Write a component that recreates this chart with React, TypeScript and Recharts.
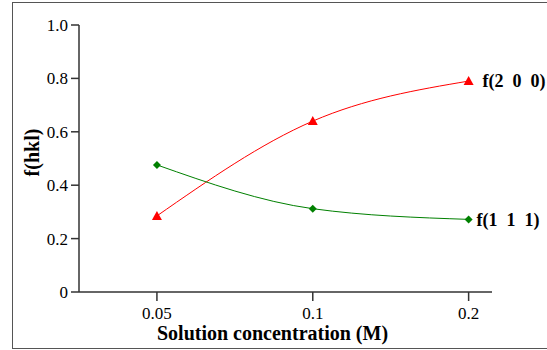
import { CartesianGrid, Line, LineChart, XAxis, YAxis } from "recharts";

const concentrations = ["0.05", "0.1", "0.2"];
const f200 = [0.285, 0.64, 0.79];
const f111 = [0.476, 0.312, 0.272];
const yTicks = [0, 0.2, 0.4, 0.6, 0.8, 1.0];

const data = concentrations.map((c, i) => ({
  idx: i,
  conc: c,
  f200: f200[i],
  f111: f111[i],
}));

const FONT = "'Liberation Serif', 'Times New Roman', serif";

function Triangle(props: any) {
  const { cx, cy } = props;
  if (cx == null || cy == null) return null;
  return <path d={`M${cx},${cy - 5} L${cx + 5},${cy + 4} L${cx - 5},${cy + 4} Z`} fill="#ff0000" />;
}

function Diamond(props: any) {
  const { cx, cy } = props;
  if (cx == null || cy == null) return null;
  return <path d={`M${cx},${cy - 4} L${cx + 4},${cy} L${cx},${cy + 4} L${cx - 4},${cy} Z`} fill="#008000" />;
}

function endLabel(text: string, dx: number) {
  return (props: any) => {
    const { x, y, index } = props;
    if (index !== concentrations.length - 1) return null;
    return (
      <text
        x={x + dx}
        y={y}
        dy="0.35em"
        fill="#000"
        style={{ whiteSpace: "pre", fontFamily: FONT, fontSize: 18, fontWeight: "bold" }}
      >
        {text}
      </text>
    );
  };
}

function YTitle(props: any) {
  const vb = props.viewBox || {};
  const x = (vb.x ?? 19) + 13;
  const y = (vb.y ?? 25) + (vb.height ?? 267) / 2 - 6;
  return (
    <text
      x={x}
      y={y}
      dy="0.35em"
      textAnchor="middle"
      transform={`rotate(-90, ${x}, ${y})`}
      fill="#000"
      style={{ fontFamily: FONT, fontSize: 20, fontWeight: "bold" }}
    >
      f(hkl)
    </text>
  );
}

function XTick(props: any) {
  const { x, y, payload } = props;
  return (
    <text x={x} y={y + 3} dy="0.75em" textAnchor="middle" fill="#000" style={{ fontFamily: FONT, fontSize: 17 }}>
      {concentrations[payload.value] ?? ""}
    </text>
  );
}

function YTick(props: any) {
  const { x, y, payload } = props;
  const v = payload.value as number;
  return (
    <text x={x - 1} y={y} dy="0.35em" textAnchor="end" fill="#000" style={{ fontFamily: FONT, fontSize: 17 }}>
      {v === 0 ? "0" : v.toFixed(1)}
    </text>
  );
}

export default function App() {
  return (
    <div style={{ position: "absolute", left: 0, top: 0, width: 547, height: 350, background: "#fff" }}>
      <div
        style={{
          position: "absolute",
          left: 12,
          top: 2,
          width: 545,
          height: 345,
          border: "1.5px solid #555",
          borderRight: "none",
        }}
      />
      <LineChart
        width={547}
        height={350}
        data={data}
        margin={{ top: 25, right: 55, left: 19, bottom: 28 }}
        style={{ position: "absolute", left: 0, top: 0 }}
      >
        <CartesianGrid stroke="none" />
        <XAxis
          dataKey="idx"
          type="number"
          domain={[-0.5, 2.15]}
          ticks={[0, 1, 2]}
          height={30}
          tickSize={9}
          tickMargin={2}
          stroke="#333"
          strokeWidth={1.5}
          tick={<XTick />}
          label={{
            value: "Solution concentration (M)",
            position: "insideBottom",
            offset: -18,
            dx: -13,
            fill: "#000",
            fontFamily: FONT,
            fontSize: 20,
            fontWeight: "bold",
          }}
        />
        <YAxis
          type="number"
          domain={[0, 1]}
          ticks={yTicks}
          width={60}
          tickSize={8}
          tickMargin={2}
          stroke="#333"
          strokeWidth={1.5}
          tick={<YTick />}
          label={<YTitle />}
        />
        <Line
          dataKey="f200"
          type="monotone"
          stroke="#ff0000"
          strokeWidth={1}
          dot={<Triangle />}
          activeDot={false}
          isAnimationActive={false}
          label={endLabel("f(2  0  0)", 14)}
        />
        <Line
          dataKey="f111"
          type="monotone"
          stroke="#008000"
          strokeWidth={1}
          dot={<Diamond />}
          activeDot={false}
          isAnimationActive={false}
          label={endLabel("f(1  1  1)", 8)}
        />
      </LineChart>
    </div>
  );
}
